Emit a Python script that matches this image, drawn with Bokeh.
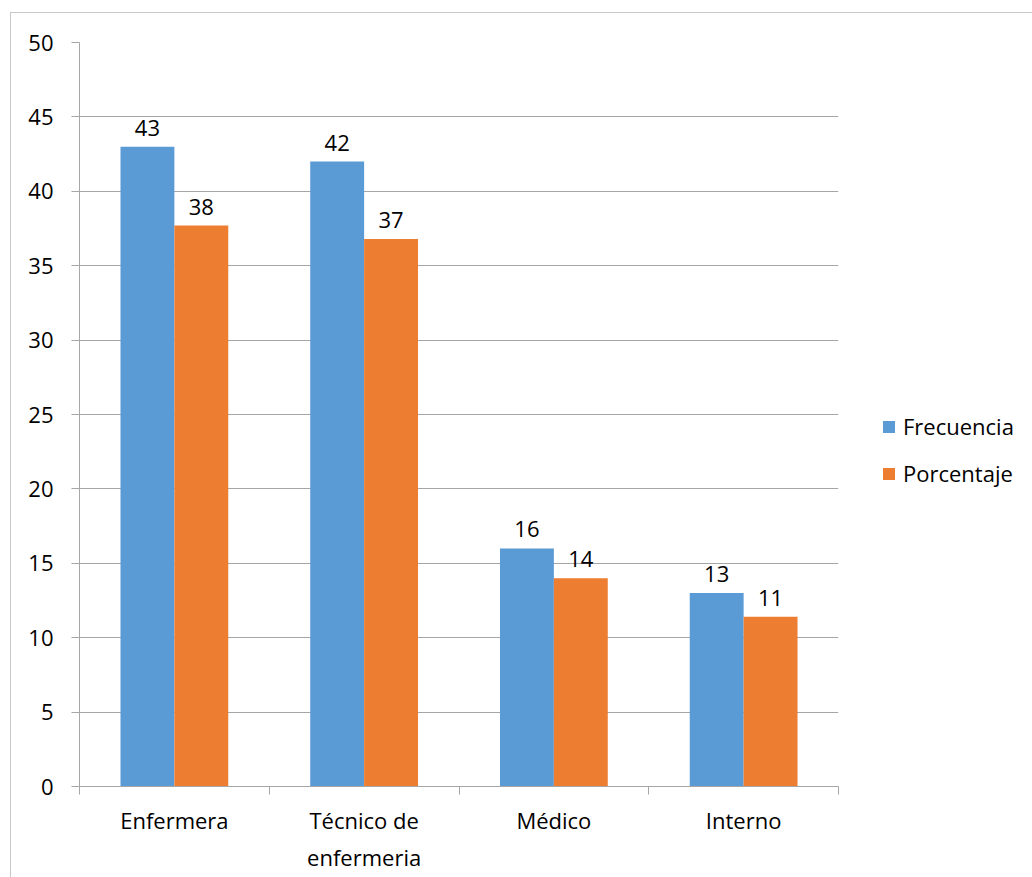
import numpy as np
from bokeh.plotting import figure
from bokeh.layouts import row
from bokeh.models import ColumnDataSource, FixedTicker, Legend, LegendItem
from bokeh.embed import file_html
from bokeh.resources import INLINE
from bokeh.core.properties import value

# ---- data ----
categories = ["Enfermera", "Técnico de\nenfermeria", "Médico", "Interno"]
frecuencia = [43, 42, 16, 13]
porcentaje = [37.7, 36.8, 14.0, 11.4]
frec_labels = ["43", "42", "16", "13"]
porc_labels = ["38", "37", "14", "11"]
series_names = ["Frecuencia", "Porcentaje"]
y_ticks = list(range(0, 51, 5))

FONT = "Open Sans"
FSIZE = "22px"
BLUE = "#5B9BD5"
ORANGE = "#ED7D31"
GRID = "#a6a6a6"

centers = np.arange(len(categories)) + 0.5
bw = 0.284

src_f = ColumnDataSource(dict(x=centers - bw / 2, top=frecuencia, lab=frec_labels))
src_p = ColumnDataSource(dict(x=centers + bw / 2, top=porcentaje, lab=porc_labels))

p = figure(width=837, height=865, x_range=(0, len(categories)), y_range=(0, 50),
           output_backend="svg", toolbar_location=None,
           min_border_left=68, min_border_top=29, min_border_right=10, min_border_bottom=92)
p.outline_line_color = None
p.background_fill_color = "white"
p.border_fill_color = "white"

p.vbar(x="x", top="top", width=bw, source=src_f, fill_color=BLUE, line_color=None)
p.vbar(x="x", top="top", width=bw, source=src_p, fill_color=ORANGE, line_color=None)

for src in (src_f, src_p):
    p.text(x="x", y="top", text="lab", source=src, text_align="center",
           text_baseline="alphabetic", y_offset=-19, text_font=value(FONT),
           text_font_size=FSIZE, text_color="black")

# y axis
p.yaxis.ticker = FixedTicker(ticks=y_ticks)
p.yaxis.axis_line_color = GRID
p.yaxis.major_tick_line_color = GRID
p.yaxis.major_tick_out = 8
p.yaxis.major_tick_in = 0
p.yaxis.minor_tick_line_color = None
p.yaxis.major_label_standoff = 18
p.yaxis.major_label_text_font = FONT
p.yaxis.major_label_text_font_size = FSIZE
p.yaxis.major_label_text_color = "black"

# x axis
p.xaxis.ticker = FixedTicker(ticks=list(centers), minor_ticks=list(range(len(categories) + 1)))
p.xaxis.major_label_overrides = {float(c): lab for c, lab in zip(centers, categories)}
p.xaxis.axis_line_color = GRID
p.xaxis.major_tick_line_color = None
p.xaxis.major_tick_out = 8
p.xaxis.major_tick_in = 0
p.xaxis.minor_tick_line_color = GRID
p.xaxis.minor_tick_out = 8
p.xaxis.minor_tick_in = 0
p.xaxis.major_label_standoff = 10
p.xaxis.major_label_text_font = FONT
p.xaxis.major_label_text_font_size = FSIZE
p.xaxis.major_label_text_color = "black"
p.xaxis.major_label_text_line_height = 1.25

p.xgrid.grid_line_color = None
p.ygrid.grid_line_color = GRID
p.ygrid.ticker = FixedTicker(ticks=y_ticks)

# legend panel (separate figure on the right, like Excel's legend area)
lg = figure(width=185, height=865, output_backend="svg", toolbar_location=None,
            x_axis_type=None, y_axis_type=None,
            min_border_left=0, min_border_right=0, min_border_top=0, min_border_bottom=0)
lg.outline_line_color = None
lg.xgrid.grid_line_color = None
lg.ygrid.grid_line_color = None
l1 = lg.vbar(x="x", top="top", width=bw, source=src_f, fill_color=BLUE, line_color=None, visible=False)
l2 = lg.vbar(x="x", top="top", width=bw, source=src_p, fill_color=ORANGE, line_color=None, visible=False)

legend = Legend(items=[LegendItem(label=series_names[0], renderers=[l1]),
                       LegendItem(label=series_names[1], renderers=[l2])],
                location=(33, 298), border_line_color=None, background_fill_alpha=0,
                padding=0, margin=0, glyph_width=15, glyph_height=15,
                label_standoff=7, spacing=17, inactive_fill_alpha=0,
                label_text_font=FONT, label_text_font_size=FSIZE,
                label_text_color="black")
lg.add_layout(legend)

layout = row(p, lg, spacing=0,
             styles={"margin-left": "10px", "margin-top": "12px",
                     "border-left": "1px solid #c8c8c8", "border-top": "1px solid #c8c8c8"})

open("out.html", "w").write(file_html(layout, INLINE))
